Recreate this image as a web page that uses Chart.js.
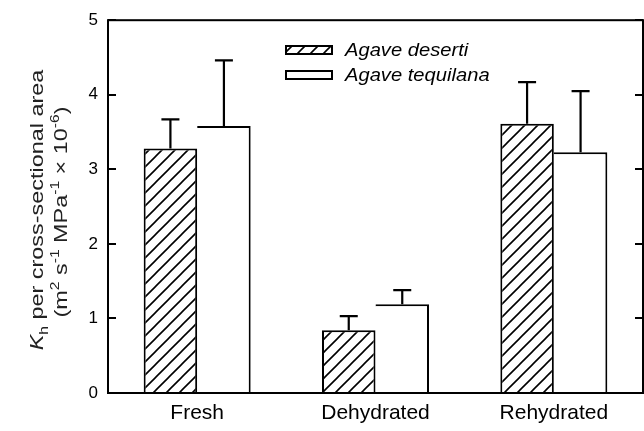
<!DOCTYPE html>
<html lang="en">
  <head>
    <meta charset="UTF-8" />
    <title>Kh per cross-sectional area</title>
    <script src="https://cdn.jsdelivr.net/npm/chart.js"></script>
    <style>
      html, body { margin: 0; padding: 0; background: #fff; }
    </style>
  </head>
  <body>
    <canvas id="myChart" width="644" height="431"></canvas>
    <script>
      // data
      const categories = ["Fresh", "Dehydrated", "Rehydrated"];
      const seriesNames = ["Agave deserti", "Agave tequilana"];
      const desertiValues = [3.28, 0.84, 3.61];
      const desertiErrors = [0.39, 0.19, 0.56];
      const tequilanaValues = [3.58, 1.19, 3.23];
      const tequilanaErrors = [0.88, 0.19, 0.82];
      const yTicks = [0, 1, 2, 3, 4, 5];

      const FONT = "'Liberation Sans', Arial, sans-serif";
      const ctx = document.getElementById("myChart").getContext("2d");

      // diagonal "/" hatch
      function makeHatch() {
        const c = document.createElement("canvas");
        c.width = 13;
        c.height = 13;
        const g = c.getContext("2d");
        g.fillStyle = "#fff";
        g.fillRect(0, 0, 13, 13);
        g.strokeStyle = "#000";
        g.lineWidth = 1.6;
        g.beginPath();
        g.moveTo(-2, 15); g.lineTo(15, -2);
        g.moveTo(-2, 2); g.lineTo(2, -2);
        g.moveTo(11, 15); g.lineTo(15, 11);
        g.stroke();
        return ctx.createPattern(c, "repeat");
      }
      const hatch = makeHatch();
      const errors = [desertiErrors, tequilanaErrors];

      const errorBars = {
        id: "errorBars",
        afterDatasetsDraw(chart) {
          const c = chart.ctx;
          const y = chart.scales.y;
          c.save();
          c.strokeStyle = "#000";
          c.lineWidth = 2.2;
          chart.data.datasets.forEach((ds, i) => {
            chart.getDatasetMeta(i).data.forEach((bar, j) => {
              const top = y.getPixelForValue(ds.data[j] + errors[i][j]);
              c.beginPath();
              c.moveTo(bar.x, bar.y);
              c.lineTo(bar.x, top);
              c.moveTo(bar.x - 9, top);
              c.lineTo(bar.x + 9, top);
              c.stroke();
            });
          });
          c.restore();
        },
      };

      const frame = {
        id: "frame",
        afterDraw(chart) {
          const c = chart.ctx;
          const a = chart.chartArea;
          const y = chart.scales.y;
          c.save();
          c.strokeStyle = "#000";
          c.lineWidth = 2;
          c.strokeRect(a.left, a.top, a.right - a.left, a.bottom - a.top);
          c.beginPath();
          yTicks.forEach((v) => {
            const py = Math.round(y.getPixelForValue(v));
            c.moveTo(a.left, py); c.lineTo(a.left + 8, py);
            c.moveTo(a.right, py); c.lineTo(a.right - 8, py);
          });
          c.stroke();
          c.restore();
        },
      };

      // draw a run of text pieces (normal / italic / sub / sup)
      function drawPieces(c, pieces, size) {
        const fontFor = (p) =>
          (p.italic ? "italic " : "") + (p.sub || p.sup ? Math.round(size * 0.68) : size) + "px " + FONT;
        let total = 0;
        pieces.forEach((p) => { c.font = fontFor(p); total += c.measureText(p.t).width; });
        let x = -total / 2;
        pieces.forEach((p) => {
          c.font = fontFor(p);
          const dy = p.sub ? size * 0.3 : p.sup ? -size * 0.45 : 0;
          c.fillText(p.t, x, dy);
          x += c.measureText(p.t).width;
        });
      }

      const yTitle = {
        id: "yTitle",
        afterDraw(chart) {
          const c = chart.ctx;
          const lines = [
            { x: 43, y: 210, pieces: [{ t: "K", italic: true }, { t: "h", sub: true }, { t: " per cross-sectional area" }] },
            { x: 67, y: 212, pieces: [{ t: "(m" }, { t: "2", sup: true }, { t: " s" }, { t: "-1", sup: true }, { t: " MPa" }, { t: "-1", sup: true }, { t: " \u00d7 10" }, { t: "-6", sup: true }, { t: ")" }] },
          ];
          c.save();
          c.fillStyle = "#222";
          c.textBaseline = "alphabetic";
          c.textAlign = "left";
          lines.forEach((l) => {
            c.save();
            c.translate(l.x, l.y);
            c.rotate(-Math.PI / 2);
            c.scale(1.3, 1);
            drawPieces(c, l.pieces, 18);
            c.restore();
          });
          c.restore();
        },
      };

      const legendBox = {
        id: "legendBox",
        afterDraw(chart) {
          const c = chart.ctx;
          const fills = [hatch, "#fff"];
          c.save();
          seriesNames.forEach((name, i) => {
            const top = 46 + i * 25;
            c.fillStyle = fills[i];
            c.fillRect(286, top, 46, 8);
            c.strokeStyle = "#000";
            c.lineWidth = 2;
            c.strokeRect(286, top, 46, 8);
            c.save();
            c.translate(345, top + 4);
            c.scale(1.12, 1);
            c.fillStyle = "#000";
            c.font = "italic 18px " + FONT;
            c.textBaseline = "middle";
            c.fillText(name, 0, 1);
            c.restore();
          });
          c.restore();
        },
      };

      new Chart(ctx, {
        type: "bar",
        data: {
          labels: categories,
          datasets: [
            {
              label: seriesNames[0],
              data: desertiValues,
              backgroundColor: hatch,
              borderColor: "#000",
              borderWidth: 2,
            },
            {
              label: seriesNames[1],
              data: tequilanaValues,
              backgroundColor: "#fff",
              borderColor: "#000",
              borderWidth: { top: 2, right: 2, bottom: 0, left: 0 },
            },
          ],
        },
        options: {
          responsive: false,
          animation: false,
          layout: { padding: { top: 20, right: 1, left: 0, bottom: 0 } },
          datasets: { bar: { categoryPercentage: 0.6, barPercentage: 1.0 } },
          plugins: { legend: { display: false }, tooltip: { enabled: false } },
          scales: {
            x: {
              grid: { display: false, drawTicks: false },
              border: { display: false },
              ticks: { color: "#000", font: { family: FONT, size: 21 }, padding: 8 },
              afterFit: (s) => { s.height = 38; },
            },
            y: {
              min: 0,
              max: 5,
              grid: { display: false, drawTicks: false },
              border: { display: false },
              ticks: { stepSize: 1, color: "#000", font: { family: FONT, size: 17 }, padding: 10 },
              afterFit: (s) => { s.width = 108; },
            },
          },
        },
        plugins: [errorBars, frame, yTitle, legendBox],
      });
    </script>
  </body>
</html>
